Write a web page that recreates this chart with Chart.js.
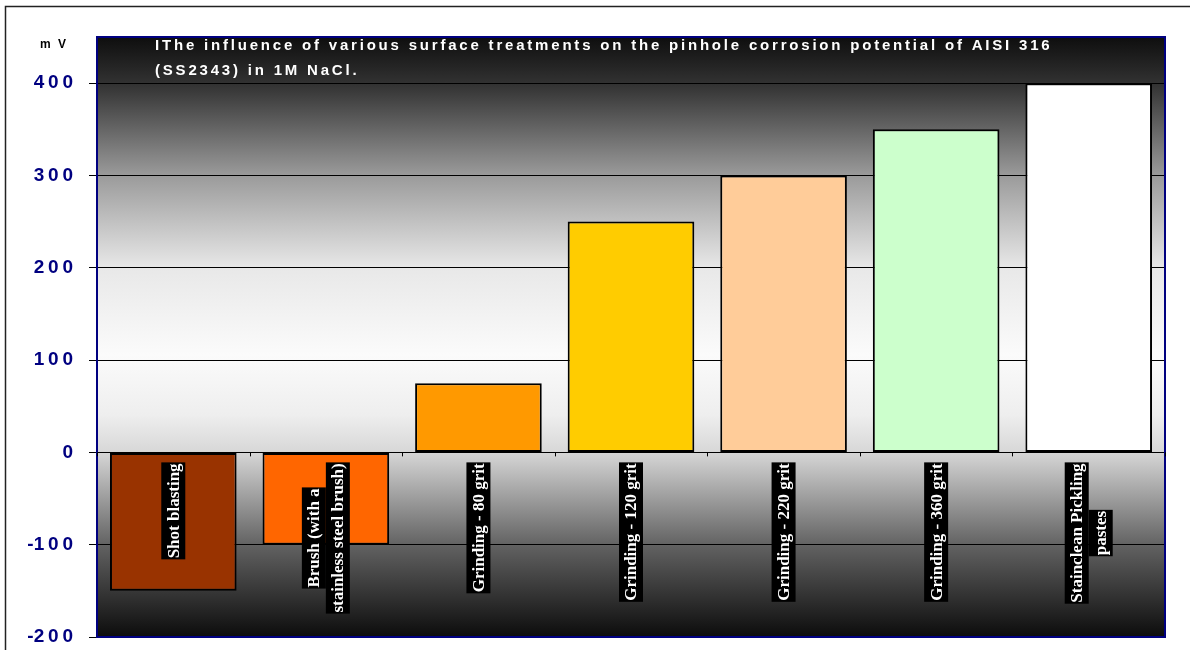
<!DOCTYPE html>
<html>
<head>
<meta charset="utf-8">
<script src="https://cdn.jsdelivr.net/npm/chart.js@4.4.1/dist/chart.umd.min.js"></script>
<style>
  html, body { margin: 0; padding: 0; background: #fff; }
  #holder { position: relative; width: 1190px; height: 650px; }
</style>
</head>
<body>
<div id="holder"><canvas id="chart" width="1190" height="650"></canvas></div>
<script>
let categories = [
    ["Shot blasting"],
    ["Brush (with a", "stainless steel brush)"],
    ["Grinding - 80 grit"],
    ["Grinding - 120 grit"],
    ["Grinding - 220 grit"],
    ["Grinding - 360 grit"],
    ["Stainclean Pickling", "pastes"]
]
let potential = [-150, -100, 75, 250, 300, 350, 400]
let barColors = ["#993300", "#FF6600", "#FF9900", "#FFCC00", "#FFCC99", "#CCFFCC", "#FFFFFF"]
let titleLines = [
    "IThe influence of various surface treatments on the pinhole corrosion potential of AISI 316",
    "(SS2343) in 1M NaCl."
]
let unitLabel = "m V"

// background of the plot area, frame, title and rotated category labels
let decor = {
    id: "decor",
    beforeDraw(chart) {
        let ctx = chart.ctx
        let a = chart.chartArea
        let g = ctx.createLinearGradient(0, a.top, 0, a.bottom)
        g.addColorStop(0, "#0e0e0e")
        g.addColorStop(0.08, "#333333")
        g.addColorStop(0.23, "#9a9a9a")
        g.addColorStop(0.385, "#e8e8e8")
        g.addColorStop(0.53, "#fbfbfb")
        g.addColorStop(0.63, "#eeeeee")
        g.addColorStop(0.69, "#d8d8d8")
        g.addColorStop(0.85, "#606060")
        g.addColorStop(1, "#0c0c0c")
        ctx.save()
        ctx.fillStyle = "#fff"
        ctx.fillRect(0, 0, chart.width, chart.height)
        ctx.fillStyle = g
        ctx.fillRect(a.left, a.top, a.right - a.left, a.bottom - a.top)
        ctx.restore()
    },
    afterDraw(chart) {
        let ctx = chart.ctx
        let a = chart.chartArea
        let x = chart.scales.x
        let y = chart.scales.y
        ctx.save()
        // outer frame
        ctx.strokeStyle = "#222"
        ctx.lineWidth = 1.5
        ctx.strokeRect(5.5, 6.5, 1200, 700)
        // plot frame
        ctx.strokeStyle = "#000080"
        ctx.lineWidth = 2
        ctx.strokeRect(a.left, a.top, a.right - a.left, a.bottom - a.top)

        // tick marks on the zero line
        let zero = y.getPixelForValue(0)
        ctx.strokeStyle = "#000"
        ctx.lineWidth = 1
        for (let i = 0; i <= categories.length; i++) {
            let px = Math.round(x.getPixelForValue(i - 0.5)) + 0.5
            ctx.beginPath()
            ctx.moveTo(px, zero)
            ctx.lineTo(px, zero + 4)
            ctx.stroke()
        }

        // unit
        ctx.fillStyle = "#000"
        ctx.font = "bold 12px Arial, 'Liberation Sans'"
        ctx.textBaseline = "middle"
        ctx.textAlign = "left"
        ctx.letterSpacing = "2px"
        ctx.fillText(unitLabel, 40, 45)

        // title inside plot area
        ctx.fillStyle = "#fff"
        ctx.font = "bold 15px Arial, 'Liberation Sans'"
        ctx.letterSpacing = "2.8px"
        ctx.textBaseline = "middle"
        titleLines.forEach(function(line, i) {
            ctx.fillText(line, 155, 46 + i * 25)
        })
        ctx.letterSpacing = "0px"

        // rotated category labels, white on black boxes
        ctx.font = "bold 17px 'Liberation Serif', 'DejaVu Serif', serif"
        let lineGap = 24
        categories.forEach(function(lines, i) {
            let cx = x.getPixelForValue(i)
            let widths = lines.map(function(l) { return ctx.measureText(l).width })
            let maxW = Math.max.apply(null, widths)
            let center = zero + 11 + maxW / 2
            let n = lines.length
            lines.forEach(function(l, j) {
                let off = (j - (n - 1) / 2) * lineGap
                ctx.save()
                ctx.translate(cx + off, center)
                ctx.rotate(-Math.PI / 2)
                ctx.fillStyle = "#000"
                ctx.fillRect(-widths[j] / 2 - 1, -12, widths[j] + 2, 24)
                ctx.fillStyle = "#fff"
                ctx.textAlign = "center"
                ctx.textBaseline = "middle"
                ctx.fillText(l, 0, 1)
                ctx.restore()
            })
        })
        ctx.restore()
    }
}

let chart = new Chart(
    document.querySelector("#chart"),
    {
        type: "bar",
        data: {
            labels: categories,
            datasets: [{
                label: "Potential",
                data: potential,
                backgroundColor: barColors,
                borderColor: "#000",
                borderWidth: 2,
                borderSkipped: false,
                categoryPercentage: 1,
                barPercentage: 0.83
            }]
        },
        options: {
            responsive: false,
            animation: false,
            layout: { padding: { top: 37, right: 25, bottom: 13, left: 0 } },
            plugins: {
                legend: { display: false },
                title: { display: false },
                tooltip: { enabled: false }
            },
            scales: {
                x: {
                    display: false
                },
                y: {
                    min: -200,
                    max: 450,
                    afterBuildTicks: function(scale) {
                        scale.ticks = scale.ticks.filter(function(t) { return t.value <= 400 })
                    },
                    afterFit: function(scale) {
                        scale.width = 97
                        scale.paddingTop = 0
                        scale.paddingBottom = 0
                    },
                    ticks: {
                        stepSize: 100,
                        color: "#000080",
                        padding: 16,
                        font: { family: "Arial, 'Liberation Sans'", size: 19, weight: "bold" },
                        callback: function(v) { return String(v).split("").join("\u2009").replace("-\u2009", "-") }
                    },
                    grid: {
                        color: "#000",
                        lineWidth: 1,
                        tickLength: 8
                    },
                    border: { display: false }
                }
            }
        },
        plugins: [decor]
    }
)
</script>
</body>
</html>
